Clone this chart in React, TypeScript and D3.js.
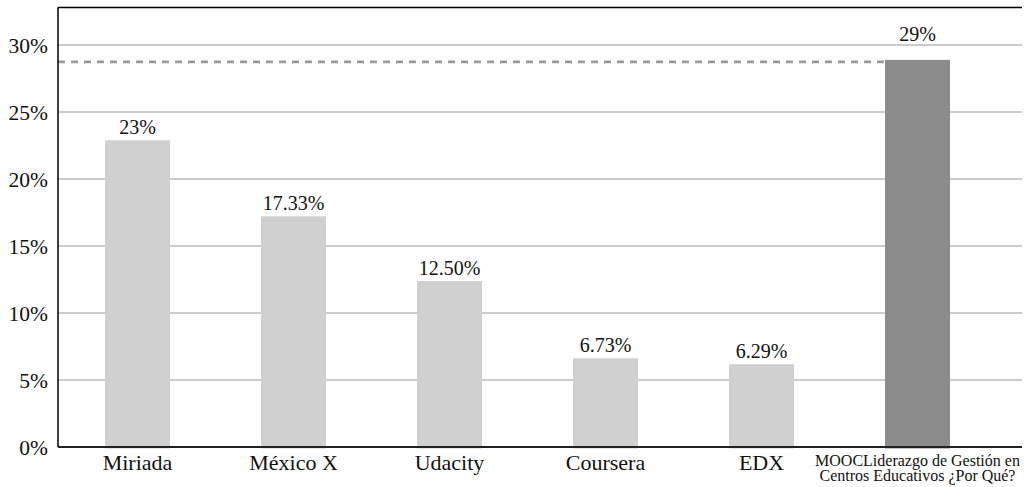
import React from "react";
import * as d3 from "d3";

const categories: string[][] = [
  ["Miriada"],
  ["México X"],
  ["Udacity"],
  ["Coursera"],
  ["EDX"],
  ["MOOCLiderazgo de Gestión en", "Centros Educativos ¿Por Qué?"],
];
const values: number[] = [23, 17.33, 12.5, 6.73, 6.29, 29];
const valueLabels: string[] = ["23%", "17.33%", "12.50%", "6.73%", "6.29%", "29%"];
const highlightIndex = 5;
const referenceValue = 28.85;
const yTicks: number[] = [0, 5, 10, 15, 20, 25, 30];

const W = 1026;
const H = 487;
const left = 58;
const right = 1022;
const top = 7.5;
const bottom = 447;
const barShift = 1.5;
const FONT = "'Liberation Serif', 'Times New Roman', Times, serif";

export default function App() {
  const y = d3.scaleLinear().domain([0, 30]).range([bottom, bottom - 402]);
  const keys = categories.map((c) => c.join(" "));
  const pi = 1 - 65 / 156;
  const x = d3
    .scaleBand<string>()
    .domain(keys)
    .range([left + 1.5, left + 1.5 + 156 * 6])
    .paddingInner(pi)
    .paddingOuter(pi / 2);
  const bw = x.bandwidth();
  const hx = x(keys[highlightIndex])!;

  return (
    <svg
      width={W}
      height={H}
      style={{ position: "absolute", left: 0, top: 0, background: "#fff", fontFamily: FONT }}
    >
      {yTicks.slice(1).map((t) => (
        <line key={t} x1={left} x2={right} y1={y(t)} y2={y(t)} stroke="#9a9a9a" strokeWidth={1.2} />
      ))}
      {values.map((v, i) => (
        <rect
          key={i}
          x={x(keys[i])}
          y={y(v) + barShift}
          width={bw}
          height={bottom - y(v)}
          fill={i === highlightIndex ? "#8c8c8c" : "#d0d0d0"}
        />
      ))}
      <line
        x1={left}
        x2={hx}
        y1={y(referenceValue) + barShift}
        y2={y(referenceValue) + barShift}
        stroke="#999"
        strokeWidth={2.6}
        strokeDasharray="7,6"
      />
      <line x1={left} x2={right} y1={top} y2={top} stroke="#000" strokeWidth={1.5} />
      <line x1={left} x2={left} y1={top} y2={bottom} stroke="#000" strokeWidth={1.5} />
      <line x1={left} x2={right} y1={bottom} y2={bottom} stroke="#222" strokeWidth={2} />
      {yTicks.map((t) => (
        <text key={t} x={left - 10} y={y(t)} dy="0.35em" textAnchor="end" fontSize={21.5} fill="#111">
          {t}%
        </text>
      ))}
      {values.map((v, i) => (
        <text
          key={i}
          x={x(keys[i])! + bw / 2}
          y={y(v) + barShift - (i === highlightIndex ? 19 : 6)}
          textAnchor="middle"
          fontSize={20}
          fill="#111"
        >
          {valueLabels[i]}
        </text>
      ))}
      {categories.map((lines, i) =>
        lines.length === 1 ? (
          <text key={i} x={x(keys[i])! + bw / 2} y={469.5} textAnchor="middle" fontSize={22} fill="#111">
            {lines[0]}
          </text>
        ) : (
          <text key={i} textAnchor="middle" fontSize={16} fill="#111">
            {lines.map((l, j) => (
              <tspan key={j} x={x(keys[i])! + bw / 2} y={466 + j * 15}>
                {l}
              </tspan>
            ))}
          </text>
        )
      )}
    </svg>
  );
}
